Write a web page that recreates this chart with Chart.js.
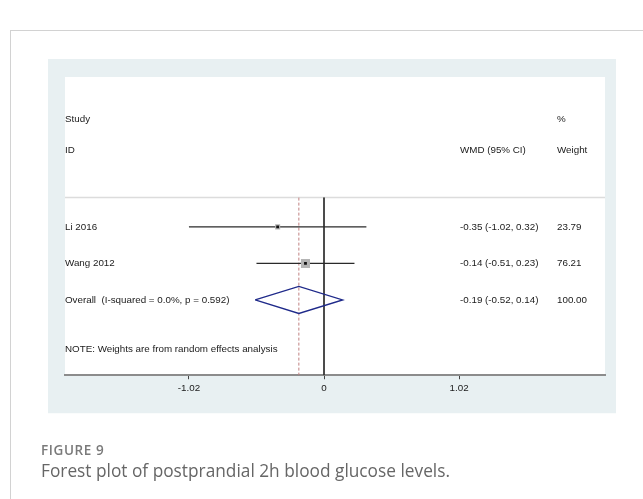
<!DOCTYPE html>
<html><head><meta charset="utf-8">
<script src="https://cdn.jsdelivr.net/npm/chart.js@4"></script>
<style>
html,body{margin:0;padding:0;background:#fff;width:643px;height:499px;overflow:hidden;}
#card{position:absolute;left:10px;top:30px;width:700px;height:600px;border-left:1px solid #d2d2d2;border-top:1px solid #d2d2d2;}
#wrap{position:absolute;left:0;top:0;width:643px;height:499px;}
#fig{position:absolute;left:41px;top:441px;font:600 13.5px "Open Sans", sans-serif;color:#7a7a7a;letter-spacing:0.6px;white-space:nowrap}
#cap{position:absolute;left:41px;top:459px;font:17.3px "Open Sans", sans-serif;color:#666;white-space:nowrap}
</style></head>
<body>
<div id="card"></div>
<div id="wrap"><canvas id="c" width="643" height="499"></canvas></div>
<div id="fig">FIGURE 9</div>
<div id="cap">Forest plot of postprandial 2h blood glucose levels.</div>
<script>
// ---- data ----
const studies = ['Li 2016', 'Wang 2012'];
const estimates = [-0.35, -0.14];
const lowerCI = [-1.02, -0.51];
const upperCI = [0.32, 0.23];
const weights = [23.79, 76.21];
const studyRows = [4, 5];
const overallLabel = 'Overall  (I-squared = 0.0%, p = 0.592)';
const overallValues = [-0.19, -0.52, 0.14]; // estimate, lower, upper
const overallWeight = 100.00;
const overallRow = 6;
const xTickValues = [-1.02, 0, 1.02];
const xTickLabels = ['-1.02', '0', '1.02'];
const headerLeft = ['Study', 'ID'];
const headerMid = ['', 'WMD (95% CI)'];
const headerRight = ['%', 'Weight'];
const headerRows = [1.05, 1.9];
const noteText = 'NOTE: Weights are from random effects analysis';
const noteRow = 7.35;
const dividerRow = 3.2;

// ---- layout constants ----
const Y_MIN = -0.1, Y_MAX = 8.06;
const X_MIN = -1.956, X_MAX = 2.122;
const DIAMOND_HALF = 0.37;
const BOX_K = 0.733;
const FONT = 'Liberation Sans, Arial, sans-serif';
const FS = 9.8;

const fmt = v => v.toFixed(2);
const ciText = (e, l, u) => fmt(e) + ' (' + fmt(l) + ', ' + fmt(u) + ')';

const ciDatasets = studies.map((s, i) => ({
  data: [{x: lowerCI[i], y: studyRows[i]}, {x: upperCI[i], y: studyRows[i]}],
  showLine: true, borderColor: '#2a2a2a', borderWidth: 1.3, pointRadius: 0, order: 5
}));

const [oE, oL, oU] = overallValues;

const datasets = [
  // zero line
  {data: [{x: 0, y: dividerRow}, {x: 0, y: Y_MAX}], showLine: true, borderColor: '#333', borderWidth: 1, pointRadius: 0, order: 9},
  // overall effect dashed line
  {data: [{x: oE, y: dividerRow}, {x: oE, y: Y_MAX}], showLine: true, borderColor: '#c08080', borderWidth: 1, borderDash: [3, 2], pointRadius: 0, order: 8},
  ...ciDatasets,
  // weight boxes
  {data: estimates.map((e, i) => ({x: e, y: studyRows[i]})), showLine: false, pointStyle: 'rect',
   pointRadius: weights.map(w => BOX_K * Math.sqrt(w)), backgroundColor: '#b4b4b4', borderWidth: 0, order: 4},
  // point estimates
  {data: estimates.map((e, i) => ({x: e, y: studyRows[i]})), showLine: false, pointStyle: 'rect',
   pointRadius: 2, backgroundColor: '#111', borderWidth: 0, order: 3},
  // diamond
  {data: [{x: oL, y: overallRow}, {x: oE, y: overallRow - DIAMOND_HALF}, {x: oU, y: overallRow}, {x: oE, y: overallRow + DIAMOND_HALF}, {x: oL, y: overallRow}],
   showLine: true, borderColor: '#1f2a8a', borderWidth: 1.4, pointRadius: 0, fill: false, tension: 0, order: 2}
];

const panelPlugin = {
  id: 'panel',
  beforeDraw(chart) {
    const {ctx, chartArea: ca} = chart;
    ctx.save();
    ctx.fillStyle = '#e8f0f2';
    ctx.fillRect(ca.left - 17, ca.top - 18, ca.width + 28, ca.bottom + 38 - (ca.top - 18));
    ctx.fillStyle = '#ffffff';
    ctx.fillRect(ca.left, ca.top, ca.width, ca.height);
    const y = chart.scales.y.getPixelForValue(dividerRow);
    ctx.strokeStyle = '#dcdcdc';
    ctx.lineWidth = 1.5;
    ctx.beginPath(); ctx.moveTo(ca.left, y); ctx.lineTo(ca.right, y); ctx.stroke();
    ctx.restore();
  },
  afterDatasetsDraw(chart) {
    const {ctx, chartArea: ca, scales: {y: ys}} = chart;
    const colMid = ca.right - 145, colRight = ca.right - 48;
    ctx.save();
    ctx.fillStyle = '#1a1a1a';
    ctx.font = FS + 'px ' + FONT;
    ctx.textBaseline = 'middle';
    ctx.textAlign = 'left';
    const lx = ca.left;
    headerRows.forEach((r, i) => {
      const py = ys.getPixelForValue(r);
      ctx.fillText(headerLeft[i], lx, py);
      ctx.fillText(headerMid[i], colMid, py);
      ctx.fillText(headerRight[i], colRight, py);
    });
    studies.forEach((s, i) => {
      const py = ys.getPixelForValue(studyRows[i]);
      ctx.fillText(s, lx, py);
      ctx.fillText(ciText(estimates[i], lowerCI[i], upperCI[i]), colMid, py);
      ctx.fillText(fmt(weights[i]), colRight, py);
    });
    const oy = ys.getPixelForValue(overallRow);
    ctx.fillText(overallLabel, lx, oy);
    ctx.fillText(ciText(oE, oL, oU), colMid, oy);
    ctx.fillText(fmt(overallWeight), colRight, oy);
    ctx.fillText(noteText, lx, ys.getPixelForValue(noteRow));
    ctx.restore();
  }
};

new Chart(document.getElementById('c'), {
  type: 'scatter',
  data: {datasets},
  options: {
    responsive: false, animation: false, devicePixelRatio: 1,
    layout: {padding: {left: 65, right: 38, top: 77, bottom: 102}},
    plugins: {legend: {display: false}, tooltip: {enabled: false}},
    scales: {
      x: {
        type: 'linear', min: X_MIN, max: X_MAX,
        afterBuildTicks: s => { s.ticks = xTickValues.map(v => ({value: v})); },
        ticks: {callback: (v, i) => xTickLabels[i], color: '#1a1a1a', font: {family: FONT, size: FS}, padding: 3, maxRotation: 0, autoSkip: false},
        grid: {display: true, drawOnChartArea: false, drawTicks: true, tickLength: 4, color: '#444', lineWidth: 1},
        border: {display: true, color: '#8c8c8c', width: 2}
      },
      y: {type: 'linear', display: false, reverse: true, min: Y_MIN, max: Y_MAX}
    }
  },
  plugins: [panelPlugin]
});
</script>
</body></html>
